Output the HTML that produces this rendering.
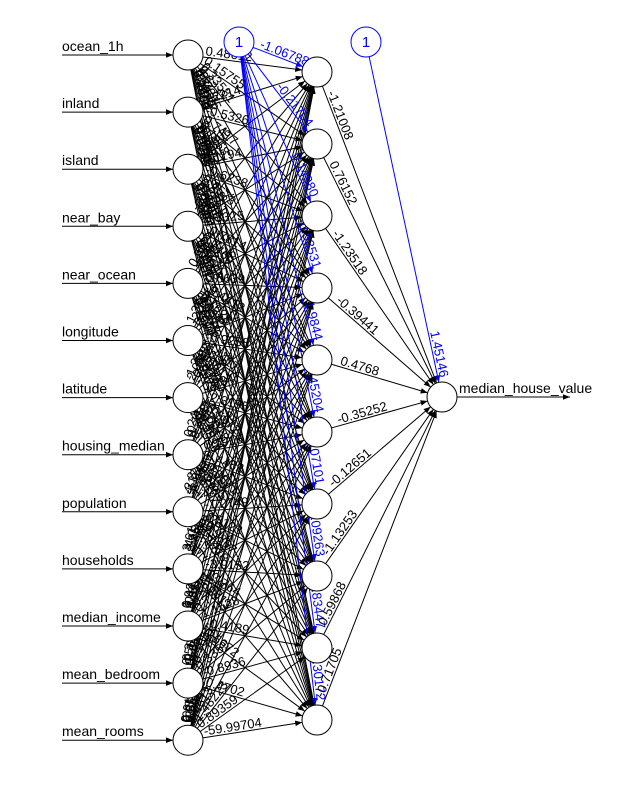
<!DOCTYPE html>
<html><head><meta charset="utf-8">
<style>
html,body{margin:0;padding:0;background:#fff;}
svg{display:block;font-family:"Liberation Sans",Arial,sans-serif;}
</style></head>
<body>
<svg id="net" width="632" height="797" viewBox="0 0 632 797">
<defs>
<marker id="ak" viewBox="0 0 10 10" refX="10" refY="5" markerWidth="7" markerHeight="7" orient="auto" markerUnits="userSpaceOnUse"><path d="M0,1 L10,5 L0,9 z" fill="#000"/></marker>
<marker id="ab" viewBox="0 0 10 10" refX="10" refY="5" markerWidth="7" markerHeight="7" orient="auto" markerUnits="userSpaceOnUse"><path d="M0,1 L10,5 L0,9 z" fill="#00f"/></marker>
</defs>
<g id="lines"></g><g id="labels"></g><g id="nodes"></g>
</svg>
<script>
const inputNames=["ocean_1h","inland","island","near_bay","near_ocean","longitude","latitude","housing_median","population","households","median_income","mean_bedroom","mean_rooms"];
const outputName="median_house_value";
const hiddenCount=10;
const hiddenOutWeights=["-1.21008","0.76152","-1.23518","-0.39441","0.4768","-0.35252","-0.12651","-1.13253","0.59868","-0.71705"];
const hiddenBias=["-1.06788","-0.21704","0.14980","-0.53531","1.9844","8.45204","-0.07101","1.09263","6.83447","0.30172"];
const outputBias="1.45146";
const inputHiddenWeights=[
["0.48612","0.15755","0.33581","0.6217","-0.2855","0.5479","0.1372","-0.8211","0.2659","0.4409"],
["0.2214","-0.5326","0.7417","0.1958","-0.3371","0.0835","0.6627","-0.1942","0.5523","0.0791"],
["0.3806","0.1194","-0.6238","0.4573","0.2791","-0.1385","0.8402","0.0617","-0.3954","0.2146"],
["-0.1537","0.6081","0.3325","-0.7814","0.1469","0.5237","-0.2698","0.3911","0.0482","-0.6153"],
["0.5924","-0.0847","0.2176","0.6639","-0.4412","0.1028","0.3357","-0.5576","0.7218","0.1694"],
["1.3527","-2.1846","0.8731","1.6642","-0.9258","2.4417","0.6613","-1.7719","0.5246","1.0973"],
["-1.2284","2.0563","-0.7652","-1.5381","0.8847","-2.3195","-0.5972","1.6028","-0.4814","-0.9836"],
["0.2468","-0.1132","0.3947","0.0753","-0.2689","0.1916","0.4482","-0.0571","0.3325","0.1207"],
["-2.8354","4.1726","-1.6498","-3.2217","1.9085","-4.6351","-1.2749","3.5123","-0.9867","-2.1418"],
["3.6142","-4.0271","2.1588","3.8846","-2.4433","5.2179","1.5627","-3.9152","1.1764","2.6813"],
["0.9217","1.4405","-0.6982","0.8154","1.2871","-0.5263","0.7346","1.1528","-0.4189","0.6672"],
["-0.3814","0.5627","-0.2483","-0.6198","0.4472","-0.1857","-0.7702","0.3359","-0.8936","0.4702"],
["0.6139","-0.8264","0.3571","0.5528","-0.7186","0.2947","0.4613","-1.48223","0.89359","-59.99704"]
];
const svg=document.getElementById('net'),L=document.getElementById('lines'),T=document.getElementById('labels'),N=document.getElementById('nodes');
const NS="http://www.w3.org/2000/svg";
const R=15;
const inX=188,inY0=55,inDy=57.1,hX=317,hY0=72,hDy=72,oX=442,oY=397;
const b1={x:239,y:42},b2={x:366,y:42};
function inPos(i){return {x:inX,y:inY0+i*inDy};}
function hPos(j){return {x:hX,y:hY0+j*hDy};}
function mk(tag,attrs,parent){const e=document.createElementNS(NS,tag);for(const k in attrs)e.setAttribute(k,attrs[k]);parent.appendChild(e);return e;}
function edge(a,b,color,name,marker){
  const dx=b.x-a.x,dy=b.y-a.y,d=Math.hypot(dx,dy),ux=dx/d,uy=dy/d;
  const l=mk('line',{x1:a.x+ux*R,y1:a.y+uy*R,x2:b.x-ux*R,y2:b.y-uy*R,stroke:color,'stroke-width':1,'marker-end':'url(#'+marker+')'},L);
  
  
  return {ux,uy,d};
}
function label(a,b,t,txt,color,name,anchor){
  const dx=b.x-a.x,dy=b.y-a.y;let ang=Math.atan2(dy,dx)*180/Math.PI;
  const x=a.x+dx*t,y=a.y+dy*t;
  const e=mk('text',{x:x,y:y-2,fill:color,'font-size':13,'text-anchor':anchor||'start',transform:'rotate('+ang+' '+x+' '+y+')'},T);
  e.textContent=txt;
  
  
}
function circle(p,name,col){
  const c=mk('circle',{cx:p.x,cy:p.y,r:R,fill:'#fff',stroke:col||'#000','stroke-width':1},N);
  
  
}
for(let i=0;i<inputNames.length;i++){for(let j=0;j<hiddenCount;j++){
  const a=inPos(i),b=hPos(j);edge(a,b,'#000','weight-line-in'+i+'-h'+j,'ak');
  const d=Math.hypot(b.x-a.x,b.y-a.y);
  label(a,b,(R+2)/d,inputHiddenWeights[i][j],'#000','weight-label-in'+i+'-h'+j);
}}
for(let j=0;j<hiddenCount;j++){const b=hPos(j);edge(b1,b,'#00f','bias-line-h'+j,'ab');
  const d=Math.hypot(b.x-b1.x,b.y-b1.y);
  label(b1,b,j==0?0.25:1-(R+4)/d,hiddenBias[j],'#00f','bias-label-h'+j,j==0?'start':'end');}
const op={x:oX,y:oY};
for(let j=0;j<hiddenCount;j++){const a=hPos(j);edge(a,op,'#000','weight-line-h'+j+'-out','ak');
  const d=Math.hypot(op.x-a.x,op.y-a.y);
  label(a,op,(R+8)/d,hiddenOutWeights[j],'#000','weight-label-h'+j+'-out');}
edge(b2,op,'#00f','bias-line-out','ab');
{const d=Math.hypot(op.x-b2.x,op.y-b2.y);label(b2,op,1-(R+4)/d,outputBias,'#00f','bias-label-out','end');}
for(let i=0;i<inputNames.length;i++){const p=inPos(i);
  const l=mk('line',{x1:62,y1:p.y,x2:p.x-R,y2:p.y,stroke:'#000','marker-end':'url(#ak)'},L);
  
  
  const t=mk('text',{x:62,y:p.y-4,'font-size':14,fill:'#000'},T);t.textContent=inputNames[i];
  
  
  circle(p,'input-node-'+i);
}
for(let j=0;j<hiddenCount;j++)circle(hPos(j),'hidden-node-'+j);
circle(op,'output-node');
{const l=mk('line',{x1:oX+R,y1:oY,x2:570,y2:oY,stroke:'#000','marker-end':'url(#ak)'},L);
 
 
 const t=mk('text',{x:459,y:oY-4,'font-size':14},T);t.textContent=outputName;
 
 }
[b1,b2].forEach((b,k)=>{circle(b,'bias-node-'+(k+1),'#00f');
 const t=mk('text',{x:b.x,y:b.y+5,'font-size':15,fill:'#00f','text-anchor':'middle'},N);t.textContent='1';
 
 });
</script>
</body></html>
